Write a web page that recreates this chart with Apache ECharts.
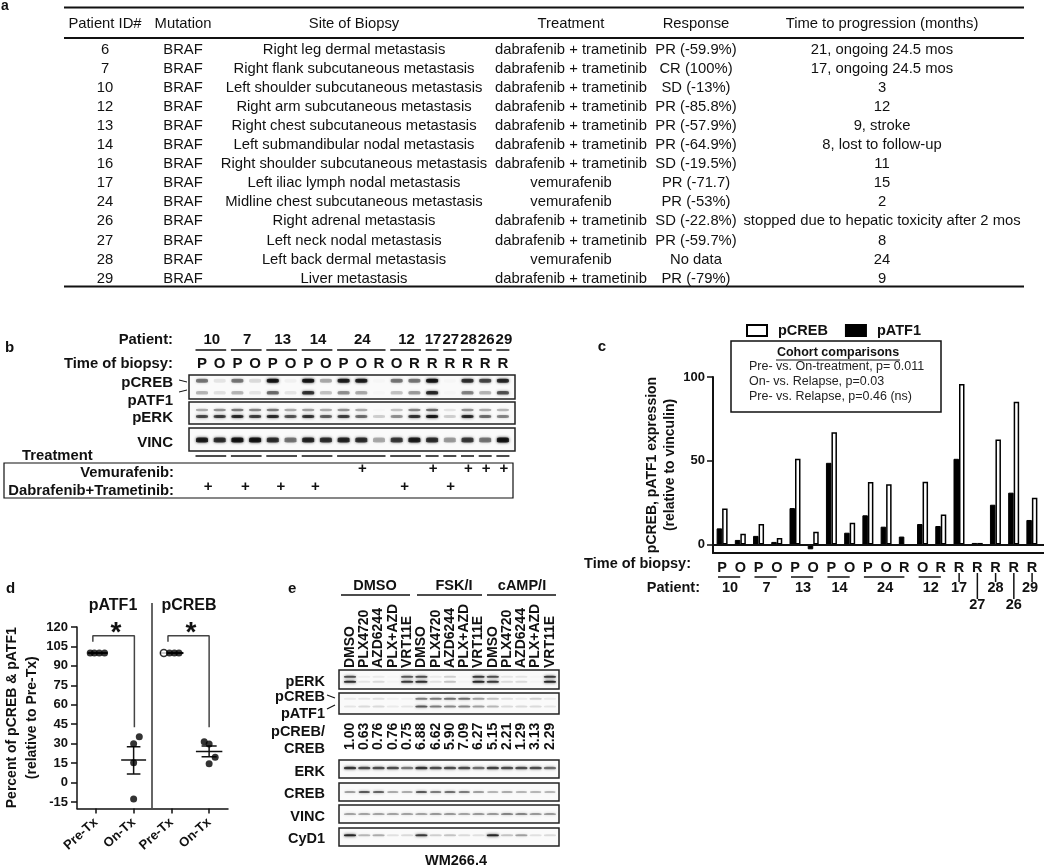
<!DOCTYPE html>
<html><head><meta charset="utf-8">
<style>html,body{margin:0;padding:0;background:#fff}#c{width:1050px;height:867px}</style>
<script src="https://cdn.jsdelivr.net/npm/echarts@6/dist/echarts.min.js"></script>
</head><body><div id="c"></div>
<script>
// ---------- Panel a table ----------
const tableHeader = ['Patient ID#','Mutation','Site of Biopsy','Treatment','Response','Time to progression (months)'];
const patientIds = ['6','7','10','12','13','14','16','17','24','26','27','28','29'];
const mutations = Array(13).fill('BRAF');
const sites = ['Right leg dermal metastasis','Right flank subcutaneous metastasis','Left shoulder subcutaneous metastasis','Right arm subcutaneous metastasis','Right chest subcutaneous metastasis','Left submandibular nodal metastasis','Right shoulder subcutaneous metastasis','Left iliac lymph nodal metastasis','Midline chest subcutaneous metastasis','Right adrenal metastasis','Left neck nodal metastasis','Left back dermal metastasis','Liver metastasis'];
const DT = 'dabrafenib + trametinib', VM = 'vemurafenib';
const treatments = [DT,DT,DT,DT,DT,DT,DT,VM,VM,DT,DT,VM,DT];
const responses = ['PR (-59.9%)','CR (100%)','SD (-13%)','PR (-85.8%)','PR (-57.9%)','PR (-64.9%)','SD (-19.5%)','PR (-71.7)','PR (-53%)','SD (-22.8%)','PR (-59.7%)','No data','PR (-79%)'];
const progression = ['21, ongoing 24.5 mos','17, ongoing 24.5 mos','3','12','9, stroke','8, lost to follow-up','11','15','2','stopped due to hepatic toxicity after 2 mos','8','24','9'];

// ---------- Panel b blot ----------
const bBiopsy = ['P','O','P','O','P','O','P','O','P','O','R','O','R','R','R','R','R','R'];
const bPatients = ['10','7','13','14','24','12','17','27','28','26','29'];
const bGroupLanes = [[0,1],[2,3],[4,5],[6,7],[8,10],[11,12],[13,13],[14,14],[15,15],[16,16],[17,17]];
const bPCREB = [.55,.1,.55,.15,1,.05,1,.35,.95,.95,.02,.55,.55,1,.02,.85,.75,.9];
const bPATF1 = [.3,.12,.3,.1,.6,.1,.85,.25,.45,.35,.02,.25,.4,.9,.02,.5,.3,.7];
const bPERKup = [.35,.45,.55,.5,.55,.35,.4,.35,.45,.35,.02,.25,.5,.6,.1,.45,.35,.3];
const bPERKlow = [.75,.8,.9,.8,.9,.7,.85,.65,.8,.6,.2,.45,.85,1,.2,.9,.6,.5];
const bVINC = [.95,.85,1,1,.85,.55,.9,.85,.9,.85,.35,.8,.95,.85,.4,.8,.55,1];
const vemLanes = [9,13,15,16,17];
const dabTramLanes = [.35,2.45,4.45,6.4,11.45,14.05];

// ---------- Panel c bars ----------
const cLetters = bBiopsy;
const cPATF1 = [9.7,2.8,5.2,1.6,21.8,-2.8,48.8,7.1,17.5,10.7,4.8,12.3,11.1,51.2,1,23.8,31,14.7];
const cPCREB = [21.6,6.5,12.3,4,51.2,7.7,67,13,37.3,36,-0.3,37.5,17.9,95.8,1,62.7,85.3,28];
const cPatients = ['10','7','13','14','24','12','17','27','28','26','29'];
const cGroupLanes = bGroupLanes;
const cohortLines = ['Pre- vs. On-treatment, {i|p}= 0.011','On- vs. Relapse, {i|p}=0.03','Pre- vs. Relapse, {i|p}=0.46 (ns)'];

// ---------- Panel d dots ----------
const dCategories = ['Pre-Tx','On-Tx','Pre-Tx','On-Tx'];
const atf1Pre = [[-0.15,100],[-0.04,100],[0.09,100],[0.23,100]];
const atf1On = [[1.15,35.4],[1,30],[1,15.3],[1,-12.7]];
const crebPre = [[1.8,100],[1.95,100],[2.08,100],[2.2,100]];
const crebOn = [[2.87,31.5],[3,29.8],[3.16,19.5],[3,14.6]];
const atf1Stats = {mean:17.4, up:27.7, low:6.6};
const crebStats = {mean:24, up:28.2, low:20};

// ---------- Panel e blot ----------
const eTreatments = ['DMSO','FSK/I','cAMP/I'];
const eLanes = ['DMSO','PLX4720','AZD6244','PLX+AZD','VRT11E','DMSO','PLX4720','AZD6244','PLX+AZD','VRT11E','DMSO','PLX4720','AZD6244','PLX+AZD','VRT11E'];
const eRatios = ['1.00','0.63','0.76','0.76','0.75','6.88','6.62','5.90','7.09','6.27','5.15','2.21','1.29','3.13','2.29'];
const ePERKup = [.75,.05,.08,.02,.7,.75,.08,.2,.02,.85,.75,.1,.1,.02,.85];
const ePERKlow = [.9,.1,.15,.03,.85,.9,.12,.25,.03,.95,.85,.15,.15,.03,.95];
const ePCREB = [.08,.1,.12,.05,.05,.55,.55,.6,.6,.4,.25,.12,.08,.2,.08];
const ePATF1 = [.1,.15,.15,.08,.1,.7,.55,.5,.5,.4,.3,.15,.15,.15,.1];
const eERK = [.85,.75,.75,.75,.55,.85,.75,.75,.75,.6,.8,.75,.75,.75,.6];
const eCREB = [.4,.7,.65,.35,.35,.7,.55,.6,.55,.4,.3,.35,.3,.3,.3];
const eVINC = [.5,.5,.5,.5,.5,.5,.55,.55,.5,.55,.55,.65,.65,.55,.55];
const eCYD1 = [.95,.3,.35,.12,.15,.85,.2,.25,.15,.12,.95,.25,.4,.12,.15];

// ---------- Helpers ----------
const FF = '"Liberation Sans", Arial, sans-serif';
const g = [], grids = [], xAxes = [], yAxes = [], series = [];
function T(x,y,text,o={}){
  g.push({type:'text',x,y,rotation:o.rot||0,z:50,silent:true,style:{text,fill:o.color||'#111',
    font:`${o.italic?'italic ':''}${o.bold?'bold ':''}${o.size||14}px ${FF}`,
    textAlign:o.align||'center',textVerticalAlign:'middle',verticalAlign:'middle',rich:o.rich}});
}
function L(x1,y1,x2,y2,w=1.5,c='#111'){
  g.push({type:'line',z:40,silent:true,shape:{x1,y1,x2,y2},style:{stroke:c,lineWidth:w}});
}
function R(x,y,width,height,w=1.5,fill='none'){
  g.push({type:'rect',z:30,silent:true,shape:{x,y,width,height},style:{stroke:'#111',lineWidth:w,fill}});
}
function blot(box,first,pitch,n,rows){
  const idx = grids.length;
  grids.push({left:box[0],top:box[1],width:box[2],height:box[3],show:true,borderColor:'#222',borderWidth:1.5,backgroundColor:'#fafafa'});
  xAxes.push({gridIndex:idx,type:'value',show:false,min:(box[0]-first)/pitch,max:(box[0]+box[2]-first)/pitch});
  yAxes.push({gridIndex:idx,type:'value',show:false,min:0,max:1,inverse:true});
  rows.forEach(r=>{
    series.push({type:'scatter',xAxisIndex:idx,yAxisIndex:idx,symbol:'roundRect',symbolSize:[r.w,r.h],silent:true,animation:false,
      data:r.vals.map((v,i)=>({value:[i,r.f],itemStyle:{color:`rgba(0,0,0,${v})`,shadowBlur:3,shadowColor:`rgba(0,0,0,${v})`}}))});
  });
}

// ---------- Panel a ----------
T(1,6,'a',{bold:true,align:'left',size:14});
L(64,7.5,1024,7.5,2); L(64,38,1024,38,2); L(64,286.5,1024,286.5,2);
const tableX = [105,183,354,571,696,882];
tableHeader.forEach((h,i)=>T(tableX[i],24,h,{size:14.8}));
[patientIds,mutations,sites,treatments,responses,progression].forEach((col,c)=>
  col.forEach((v,r)=>T(tableX[c],49.5+r*19.1,v,{size:14.8})));

// ---------- Panel b ----------
const bLane = i=>202+17.7*i;
T(5,348,'b',{bold:true,align:'left',size:15});
T(173,340,'Patient:',{bold:true,align:'right',size:14.8});
T(173,364,'Time of biopsy:',{bold:true,align:'right',size:14.8});
bPatients.forEach((p,i)=>{
  const [a,b]=bGroupLanes[i];
  T((bLane(a)+bLane(b))/2+1,340,p,{bold:true,size:15});
  L(bLane(a)-6.5,350,bLane(b)+6.5,350,1.5);
  L(bLane(a)-6.5,456,bLane(b)+6.5,456,1.5);
});
bBiopsy.forEach((l,i)=>T(bLane(i),364,l,{bold:true,size:15}));
blot([189,375,326,24],202,17.7,18,[{vals:bPCREB,f:.24,w:12,h:4},{vals:bPATF1,f:.74,w:12,h:3.5}]);
blot([189,402,326,22],202,17.7,18,[{vals:bPERKup,f:.36,w:12,h:2.5},{vals:bPERKlow,f:.66,w:12,h:3}]);
blot([189,428,326,23],202,17.7,18,[{vals:bVINC,f:.52,w:12,h:5}]);
T(173,383,'pCREB',{bold:true,align:'right',size:15});
T(173,401,'pATF1',{bold:true,align:'right',size:15});
T(173,418,'pERK',{bold:true,align:'right',size:15});
T(173,443,'VINC',{bold:true,align:'right',size:15});
L(179,380,187,382,1); L(179,392,187,390,1);
T(22,456,'Treatment',{bold:true,align:'left',size:14.8});
R(4,463,509,35,1.2);
T(174,473,'Vemurafenib:',{bold:true,align:'right',size:14.8});
T(174,491,'Dabrafenib+Trametinib:',{bold:true,align:'right',size:14.8});
vemLanes.forEach(i=>T(bLane(i)+1,469,'+',{bold:true,size:15}));
dabTramLanes.forEach(i=>T(bLane(i),487,'+',{bold:true,size:15}));

// ---------- Panel c ----------
const cLane = i=>722+18.24*i;
T(602,347,'c',{bold:true,size:15});
const ci = grids.length;
grids.push({left:713,top:377,width:328,height:176});
xAxes.push({gridIndex:ci,type:'category',data:cLetters.map((l,i)=>i+''),
  axisLine:{onZero:false,lineStyle:{color:'#111',width:2}},axisTick:{alignWithLabel:true,length:5,lineStyle:{color:'#111',width:1.5}},
  axisLabel:{interval:0,color:'#111',fontFamily:FF,fontWeight:'bold',fontSize:14.5,margin:7,formatter:(v,i)=>cLetters[i]}});
yAxes.push({gridIndex:ci,type:'value',min:-5,max:100,splitLine:{show:false},
  name:'pCREB, pATF1 expression\n(relative to vinculin)',nameLocation:'middle',nameGap:32,
  nameTextStyle:{color:'#111',fontFamily:FF,fontWeight:'bold',fontSize:14,lineHeight:18},
  axisLine:{show:true,onZero:false,lineStyle:{color:'#111',width:2}},
  axisTick:{show:true,length:6,customValues:[0,50,100],lineStyle:{color:'#111',width:1.5}},
  axisLabel:{customValues:[0,50,100],color:'#111',fontFamily:FF,fontWeight:'bold',fontSize:13,margin:8}});
series.push({type:'bar',name:'pATF1',xAxisIndex:ci,yAxisIndex:ci,data:cPATF1,barWidth:5.5,barGap:'0%',animation:false,
  itemStyle:{color:'#000',borderColor:'#000',borderWidth:1},
  markLine:{silent:true,symbol:'none',label:{show:false},animation:false,lineStyle:{color:'#111',width:2,type:'solid'},data:[{yAxis:0}]}});
series.push({type:'bar',name:'pCREB',xAxisIndex:ci,yAxisIndex:ci,data:cPCREB,barWidth:5.5,barGap:'0%',animation:false,
  itemStyle:{color:'#fff',borderColor:'#000',borderWidth:1.5}});
L(1041,545,1044,545,2); L(1041,553,1044,553,2);
R(731,341,210,71,1.5,'#fff');
T(838,353,'Cohort comparisons',{bold:true,size:12.5});
L(776,360,900,360,1);
cohortLines.forEach((t,i)=>T(749,367+i*15,t,{align:'left',size:12.5,color:'#222',rich:{i:{fontStyle:'italic'}}}));
T(691,564,'Time of biopsy:',{bold:true,align:'right',size:14.5});
T(700,588,'Patient:',{bold:true,align:'right',size:14.5});
cPatients.forEach((p,i)=>{
  const [a,b]=cGroupLanes[i];
  if(a!==b){ L(cLane(a)-4,577,cLane(b),577,1.5); T((cLane(a)+cLane(b))/2-1,588,p,{bold:true,size:14.5}); }
  else {
    const low = p==='27'||p==='26';
    L(cLane(a),573,cLane(a),low?599:582,1.5);
    T(cLane(a)-(p==='29'?2:0),low?605:588,p,{bold:true,size:14.5});
  }
});

// ---------- Panel d ----------
T(6,589,'d',{bold:true,size:15,align:'left'});
const di = grids.length;
grids.push({left:77,top:627,width:151,height:181.5});
xAxes.push({gridIndex:di,type:'value',min:-0.5,max:3.5,splitLine:{show:false},
  axisLine:{onZero:false,lineStyle:{color:'#111',width:1.5}},
  axisTick:{customValues:[0,1,2,3],length:5,lineStyle:{color:'#111',width:1.5}},
  axisLabel:{customValues:[0,1,2,3],rotate:42,margin:12,color:'#111',fontFamily:FF,fontWeight:'bold',fontSize:13,formatter:v=>dCategories[v]}});
yAxes.push({gridIndex:di,type:'value',min:-20,max:120,splitLine:{show:false},
  name:'Percent of pCREB & pATF1\n(relative to Pre-Tx)',nameLocation:'middle',nameGap:32,
  nameTextStyle:{color:'#111',fontFamily:FF,fontWeight:'bold',fontSize:14,lineHeight:20},
  axisLine:{show:true,onZero:false,lineStyle:{color:'#111',width:1.5}},
  axisTick:{length:6,customValues:[-15,0,15,30,45,60,75,90,105,120],lineStyle:{color:'#111',width:1.5}},
  axisLabel:{customValues:[-15,0,15,30,45,60,75,90,105,120],margin:9,color:'#111',fontFamily:FF,fontWeight:'bold',fontSize:13}});
function dLine(data,c='#111',w=1.5){
  series.push({type:'line',xAxisIndex:di,yAxisIndex:di,data,symbol:'none',silent:true,animation:false,clip:false,lineStyle:{color:c,width:w}});
}
function dDots(data,hollowFirst){
  series.push({type:'scatter',xAxisIndex:di,yAxisIndex:di,symbolSize:7,silent:true,animation:false,z:5,
    data:data.map((d,i)=>({value:d,itemStyle:(hollowFirst&&i===0)?{color:'#fff',borderColor:'#000',borderWidth:1.5}:{color:'#000'}}))});
}
function dStats(x,s,half,cap){
  dLine([[x-half,s.mean],[x+half,s.mean]]);
  dLine([[x,s.low],[x,s.up]]);
  dLine([[x-cap,s.up],[x+cap,s.up]]);
  dLine([[x-cap,s.low],[x+cap,s.low]]);
}
dLine([[-0.08,108.7],[-0.08,113.3],[1.02,113.3],[1.02,42.6]],'#444');
dLine([[1.91,108.7],[1.91,113.3],[3.0,113.3],[3.0,42.6]],'#444');
dLine([[-0.22,100],[0.31,100]],'#111',2);
dLine([[1.7,100],[2.32,100]],'#111',2);
dStats(1,atf1Stats,.33,.18);
dStats(3,crebStats,.35,.2);
dDots(atf1Pre); dDots(atf1On); dDots(crebPre,true); dDots(crebOn);
L(152,603,152,808,1.5,'#333');
T(113,606,'pATF1',{bold:true,size:16}); T(189,606,'pCREB',{bold:true,size:16});
T(116,633,'*',{bold:true,size:28}); T(191,633,'*',{bold:true,size:28});

// ---------- Panel e ----------
const eLane = i=>350+14.28*i;
T(288,589,'e',{bold:true,size:15,align:'left'});
eTreatments.forEach((t,i)=>{
  T([375,454,522][i],586,t,{bold:true,size:14.5});
  L([341,417,487][i],595,[410,482,556][i],595,1.5);
});
eLanes.forEach((t,i)=>T(eLane(i),668,t,{rot:Math.PI/2,align:'left',size:14,bold:true}));
eRatios.forEach((t,i)=>T(eLane(i),750,t,{rot:Math.PI/2,align:'left',bold:true,size:14}));
const eBoxX=339,eBoxW=220;
blot([eBoxX,670,eBoxW,19],350,14.28,15,[{vals:ePERKup,f:.36,w:12,h:2},{vals:ePERKlow,f:.62,w:12,h:2}]);
blot([eBoxX,693,eBoxW,21],350,14.28,15,[{vals:ePCREB,f:.27,w:12,h:2},{vals:ePATF1,f:.64,w:12,h:2}]);
blot([eBoxX,760,eBoxW,18],350,14.28,15,[{vals:eERK,f:.45,w:12,h:2.5}]);
blot([eBoxX,783,eBoxW,18],350,14.28,15,[{vals:eCREB,f:.5,w:11,h:2}]);
blot([eBoxX,805,eBoxW,18],350,14.28,15,[{vals:eVINC,f:.5,w:12,h:1.5}]);
blot([eBoxX,828,eBoxW,18],350,14.28,15,[{vals:eCYD1,f:.4,w:12,h:2}]);
[['pERK',682],['pCREB',697],['pATF1',714],['pCREB/',732],['CREB',749],['ERK',772],['CREB',794],['VINC',817],['CyD1',839]]
  .forEach(([t,y])=>T(325,y,t,{bold:true,align:'right',size:14.5}));
L(327,695,335,698,1.2); L(327,709,335,705,1.2);
T(456,861,'WM266.4',{bold:true,size:14.5});

const chart = echarts.init(document.getElementById('c'),null,{renderer:'canvas'});
chart.setOption({
  animation:false,backgroundColor:'#fff',
  legend:{show:true,data:['pCREB','pATF1'],left:746,top:323,padding:0,itemWidth:20,itemHeight:11,itemGap:17,icon:'rect',selectedMode:false,
    textStyle:{color:'#111',fontFamily:FF,fontWeight:'bold',fontSize:14.5,padding:[0,0,0,6]}},
  grid:grids,xAxis:xAxes,yAxis:yAxes,series,graphic:{elements:g}
});
</script></body></html>
